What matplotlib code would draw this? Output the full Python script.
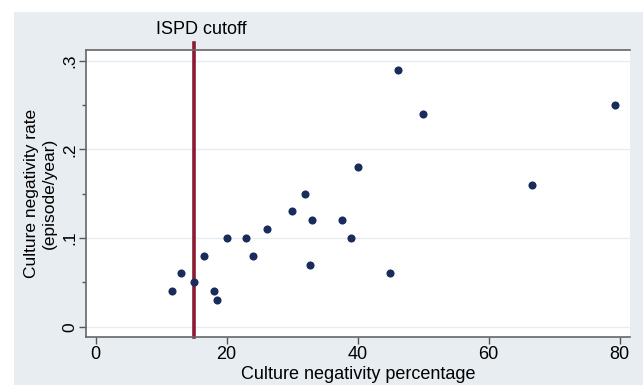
import matplotlib

matplotlib.use("Agg")
import matplotlib.pyplot as plt
import matplotlib.patches as mpatches

# culture negativity percentage vs culture negativity rate (episode/year)
neg_pct = [11.6, 13.1, 15.0, 16.6, 18.1, 18.5, 20.0, 22.9, 24.1, 26.1, 30.0,
           32.0, 33.1, 32.7, 37.6, 39.0, 40.0, 45.0, 46.2, 50.0, 66.7, 79.3]
neg_rate = [0.04, 0.06, 0.05, 0.08, 0.04, 0.03, 0.10, 0.10, 0.08, 0.11, 0.13,
            0.15, 0.12, 0.07, 0.12, 0.10, 0.18, 0.06, 0.29, 0.24, 0.16, 0.25]
cutoff = 15
x_ticks = [0, 20, 40, 60, 80]
y_ticks = [0, 0.1, 0.2, 0.3]
y_tick_labels = ["0", ".1", ".2", ".3"]

plt.rcParams["font.family"] = ["Liberation Sans", "DejaVu Sans"]

W, H = 643, 385
fig = plt.figure(figsize=(W / 100, H / 100), dpi=100, facecolor="white")
bg = mpatches.Rectangle((14 / W, 0), 1 - 14 / W, 1 - 12 / H, transform=fig.transFigure,
                        facecolor="#e8edf1", edgecolor="none", zorder=-10)
fig.patches.append(bg)

ax = fig.add_axes([86 / W, 48 / H, (630 - 86) / W, (337 - 50) / H])
ax.set_facecolor("white")
ax.set_xlim(-1.48, 81.6)
ax.set_ylim(-0.0116, 0.312)

ax.set_yticks(y_ticks)
ax.set_yticklabels(y_tick_labels, rotation=90, va="center", fontsize=12.5)
ax.set_yticks([0.05, 0.15, 0.25], minor=True)
ax.set_xticks(x_ticks)
ax.set_xticklabels([str(t) for t in x_ticks], fontsize=13)
ax.tick_params(which="both", direction="out", color="#555555", labelcolor="black")
ax.tick_params(which="major", length=5, width=1)
ax.tick_params(which="minor", length=3, width=1)
ax.tick_params(axis="x", pad=1.5)
ax.tick_params(axis="y", pad=1)

for side in ["left", "bottom", "top"]:
    ax.spines[side].set_color("#666666")
    ax.spines[side].set_linewidth(1.2)
ax.spines["right"].set_visible(False)

ax.grid(axis="y", color="#e6edf0", linewidth=1)
ax.set_axisbelow(True)

ax.scatter(neg_pct, neg_rate, s=34, color="#1a2c5b", zorder=3, linewidths=0)
ax.axvline(cutoff, ymin=0, ymax=1.025, color="#8c1a33", linewidth=2.6, clip_on=False, zorder=2)
ax.annotate("ISPD cutoff", xy=(cutoff, 1.07), xycoords=("data", "axes fraction"),
            xytext=(5.5, 0), textcoords="offset points", ha="center", va="center", fontsize=13)

ax.set_xlabel("Culture negativity percentage", fontsize=13, labelpad=2)
ax.set_ylabel("Culture negativity rate\n(episode/year)", fontsize=12.5, labelpad=4, linespacing=1.3)

fig.savefig("out.png", dpi=100, facecolor="white")
